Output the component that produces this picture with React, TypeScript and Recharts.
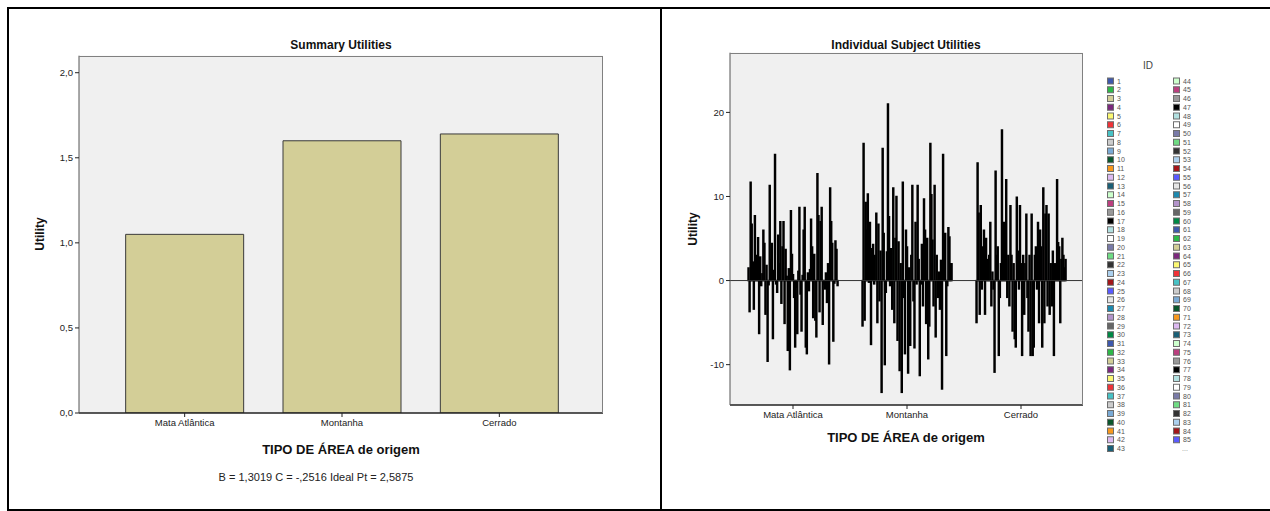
import React from 'react';
import { BarChart, Bar, XAxis, YAxis, CartesianGrid, ReferenceLine } from 'recharts';

const areas = ['Mata Atlântica', 'Montanha', 'Cerrado'];
const summaryUtility = [1.05, 1.6, 1.64];
const summaryTicks = [0, 0.5, 1, 1.5, 2];
const subjectTicks = [-10, 0, 10, 20];

// individual utilities, subject 1..85, per area
const mataAtlantica = [
  1.5, -3.7, 11.7, 6.7, 2.2, -3.4, 7.7, 1.0, 3.0, 5.1,
  -6.3, 2.8, -0.6, 0.8, 6.0, 4.4, -4.0, 1.8, -9.6, -0.5,
  11.3, 2.5, 4.4, -6.9, 1.2, 15.0, -0.4, -1.4, 5.4, 2.0,
  7.0, -2.7, 4.0, 7.0, -5.1, 3.7, 0.5, -8.3, 1.4, -10.6,
  8.3, 3.1, 0.7, -2.0, -7.9, -0.8, -6.3, 1.1, 8.7, -1.6,
  -6.0, 0.6, 6.0, 8.7, -7.9, -8.7, 0.9, -1.2, 1.3, 7.3,
  4.0, -4.4, 3.1, -4.7, -6.7, 12.7, 7.7, -3.7, 7.0, 8.7,
  -5.2, -0.4, -1.0, 0.9, -2.6, 2.0, -9.9, 11.0, 7.0, 4.4,
  -7.2, -0.3, 4.7, 3.7, -0.6,
];
const montanha = [
  -5.4, 16.3, -4.7, 9.3, 6.0, 10.3, -0.2, 6.9, -7.6, 3.8,
  4.3, -0.4, 3.0, 8.0, -5.0, 6.7, -2.4, 3.5, -13.3, 15.7,
  5.6, -10.0, -1.4, 3.4, 21.0, 7.6, -0.6, 3.8, -3.4, 11.0,
  -5.0, 5.0, 10.0, -7.1, 4.6, -10.7, 2.0, -13.3, 11.7, -2.0,
  -8.7, 6.0, 4.0, -11.0, 1.5, -7.7, 3.0, 11.3, -2.4, -8.0,
  6.9, -0.4, 11.3, 2.5, -11.3, -0.4, 4.3, -3.0, 9.7, 6.0,
  -5.1, 5.0, -9.3, -5.4, 16.3, 10.2, 4.8, -3.0, 11.3, -6.7,
  3.0, -2.0, 1.0, -3.4, 2.4, -12.9, 15.0, 2.5, 5.6, -8.9,
  -0.6, 6.3, 5.2, 2.0, 2.0,
];
const cerrado = [
  -5.0, 14.0, 8.0, -4.0, 8.9, -1.0, 4.0, 6.0, -4.0, 5.0,
  2.5, 1.5, 3.0, 6.9, -3.0, 1.0, -1.0, -10.9, 13.0, 3.0,
  4.0, -8.9, -2.0, 2.0, 17.9, 4.0, 6.9, 2.5, 12.0, -2.0,
  3.0, -3.0, 8.9, 3.0, -6.0, 2.0, -6.9, -7.9, 9.9, 3.5,
  -1.0, 8.9, 2.0, -8.9, 3.0, -4.0, 2.0, 7.9, -2.0, -6.0,
  3.0, -8.9, 7.9, -8.9, -7.9, 3.0, 4.0, -1.0, 6.9, -5.0,
  6.0, 4.0, -7.9, 11.0, -5.0, 7.9, 8.9, -3.0, 7.9, -4.0,
  2.0, -3.0, 3.5, -8.9, 2.0, 1.5, 12.0, 4.5, 4.0, -5.0,
  2.5, 5.0, 3.0, 1.5, 2.5,
];

// SPSS colour cycle for the ID legend
const idColors = [
  '#3E58AC', '#2EB848', '#D3CE97', '#7C287D', '#FBF873', '#EF3338',
  '#48C2C5', '#CCCCCC', '#7AAAD5', '#0A562C', '#F8981D', '#DDBAF1',
  '#1A5F76', '#CCFFCC', '#BB3F7F', '#999999', '#000000', '#B2E0E0',
  '#FFFFFF', '#797AA7', '#70DC84', '#333333', '#ACD0EE', '#A21619',
  '#5A5AFF', '#E6E6E6', '#1D89AE', '#B394CA', '#666666', '#008844',
];

const subjectIds = mataAtlantica.map((_, i) => i + 1);
const subjectRows = [mataAtlantica, montanha, cerrado].map((vals, k) => {
  const row: Record<string, string | number> = { area: areas[k] };
  vals.forEach((v, i) => {
    row[`s${i + 1}`] = v;
  });
  return row;
});
const summaryRows = areas.map((area, i) => ({ area, utility: summaryUtility[i] }));

const FONT = '"Liberation Sans", Arial, sans-serif';
const fmtComma = (v: number) => v.toFixed(1).replace('.', ',');

const abs = (x: number, y: number, extra: React.CSSProperties = {}): React.CSSProperties => ({
  position: 'absolute',
  left: x,
  top: y,
  transform: 'translate(-50%, -50%)',
  whiteSpace: 'nowrap',
  fontFamily: FONT,
  color: '#111',
  ...extra,
});

function IdLegend() {
  const rowH = 8.75;
  const col1 = subjectIds.slice(0, 43);
  const col2 = subjectIds.slice(43);
  const item = (id: number, x: number, row: number) => (
    <g key={id}>
      <rect x={x + 0.5} y={81 + row * rowH - 3} width={6} height={6} fill={idColors[(id - 1) % idColors.length]} stroke="#6e6e6e" strokeWidth={1} />
      <text x={x + 10} y={81 + row * rowH + 2.5} fontSize={7} fill="#555" fontFamily={FONT}>{id}</text>
    </g>
  );
  return (
    <svg width={1270} height={511} style={{ position: 'absolute', left: 0, top: 0, pointerEvents: 'none' }}>
      <text x={1148} y={69} fontSize={10} fill="#444" textAnchor="middle" fontFamily={FONT}>ID</text>
      {col1.map((id, r) => item(id, 1107, r))}
      {col2.map((id, r) => item(id, 1173, r))}
      <text x={1185} y={81 + 42 * rowH + 2} fontSize={7} fill="#888" textAnchor="middle" fontFamily={FONT}>...</text>
    </svg>
  );
}

export default function App() {
  const tick = { fontSize: 9.5, fill: '#222', fontFamily: FONT };
  return (
    <div style={{ position: 'fixed', left: 0, top: 0, width: 1270, height: 511, background: '#fff', overflow: 'hidden' }}>
      {/* frame */}
      <div style={{ position: 'absolute', left: 7, top: 7, width: 2, height: 504, background: '#000' }} />
      <div style={{ position: 'absolute', left: 7, top: 7, width: 1263, height: 2, background: '#000' }} />
      <div style={{ position: 'absolute', left: 660, top: 7, width: 2, height: 504, background: '#000' }} />
      <div style={{ position: 'absolute', left: 7, top: 509, width: 1263, height: 2, background: '#000' }} />

      {/* left: summary utilities */}
      <div style={{ position: 'absolute', left: 0, top: 0 }}>
        <BarChart width={660} height={511} data={summaryRows} margin={{ top: 55.7, right: 57, bottom: 68, left: 39 }} barCategoryGap="12.5%">
          <CartesianGrid fill="#F0F0F0" horizontal={false} vertical={false} />
          <XAxis dataKey="area" height={30} interval={0} padding={{ left: 27, right: 25 }} tick={tick} tickSize={4} tickLine={{ stroke: '#222' }} axisLine={{ stroke: '#222', strokeWidth: 1.5 }} />
          <YAxis width={40} domain={[0, 2.1]} ticks={summaryTicks} tickFormatter={fmtComma} tick={tick} tickSize={4} tickLine={{ stroke: '#222' }} axisLine={{ stroke: '#555' }} allowDataOverflow />
          <Bar dataKey="utility" fill="#D3CE97" stroke="#3a3a3a" strokeWidth={1} isAnimationActive={false} />
        </BarChart>
      </div>
      <div style={{ position: 'absolute', left: 79, top: 55.7, width: 524, height: 357.3, borderTop: '1px solid #808080', borderRight: '1px solid #808080', boxSizing: 'border-box', pointerEvents: 'none' }} />
      <div style={abs(341, 45, { fontSize: 12, fontWeight: 'bold' })}>Summary Utilities</div>
      <div style={abs(40, 234, { fontSize: 12, fontWeight: 'bold', transform: 'translate(-50%, -50%) rotate(-90deg)' })}>Utility</div>
      <div style={abs(341, 449, { fontSize: 13, fontWeight: 'bold' })}>TIPO DE ÁREA de origem</div>
      <div style={abs(316, 477, { fontSize: 11, color: '#222' })}>B = 1,3019 C = -,2516 Ideal Pt = 2,5875</div>

      {/* right: individual subject utilities */}
      <div style={{ position: 'absolute', left: 660, top: 0 }}>
        <BarChart width={440} height={511} data={subjectRows} margin={{ top: 52.7, right: 17, bottom: 81, left: 35 }} barGap={0} barSize={1.06}>
          <CartesianGrid fill="#F0F0F0" horizontal={false} vertical={false} />
          <XAxis dataKey="area" height={25} interval={0} padding={{ left: 6, right: 5 }} tick={tick} tickSize={4} tickLine={{ stroke: '#222' }} axisLine={{ stroke: '#222', strokeWidth: 1.5 }} />
          <YAxis width={35} domain={[-14.8, 27.1]} ticks={subjectTicks} tick={tick} tickSize={4} tickLine={{ stroke: '#222' }} axisLine={{ stroke: '#555' }} allowDataOverflow />
          {subjectIds.map((id) => (
            <Bar key={id} dataKey={`s${id}`} fill={idColors[(id - 1) % idColors.length]} stroke="#000" strokeWidth={1.4} isAnimationActive={false} />
          ))}
          <ReferenceLine y={0} stroke="#333" strokeWidth={1} />
        </BarChart>
      </div>
      <div style={{ position: 'absolute', left: 730, top: 52.7, width: 353, height: 352.3, borderTop: '1px solid #808080', borderRight: '1px solid #808080', boxSizing: 'border-box', pointerEvents: 'none' }} />
      <div style={abs(906, 45, { fontSize: 12, fontWeight: 'bold' })}>Individual Subject Utilities</div>
      <div style={abs(693, 229, { fontSize: 12, fontWeight: 'bold', transform: 'translate(-50%, -50%) rotate(-90deg)' })}>Utility</div>
      <div style={abs(906, 437, { fontSize: 13, fontWeight: 'bold' })}>TIPO DE ÁREA de origem</div>

      <IdLegend />
    </div>
  );
}
